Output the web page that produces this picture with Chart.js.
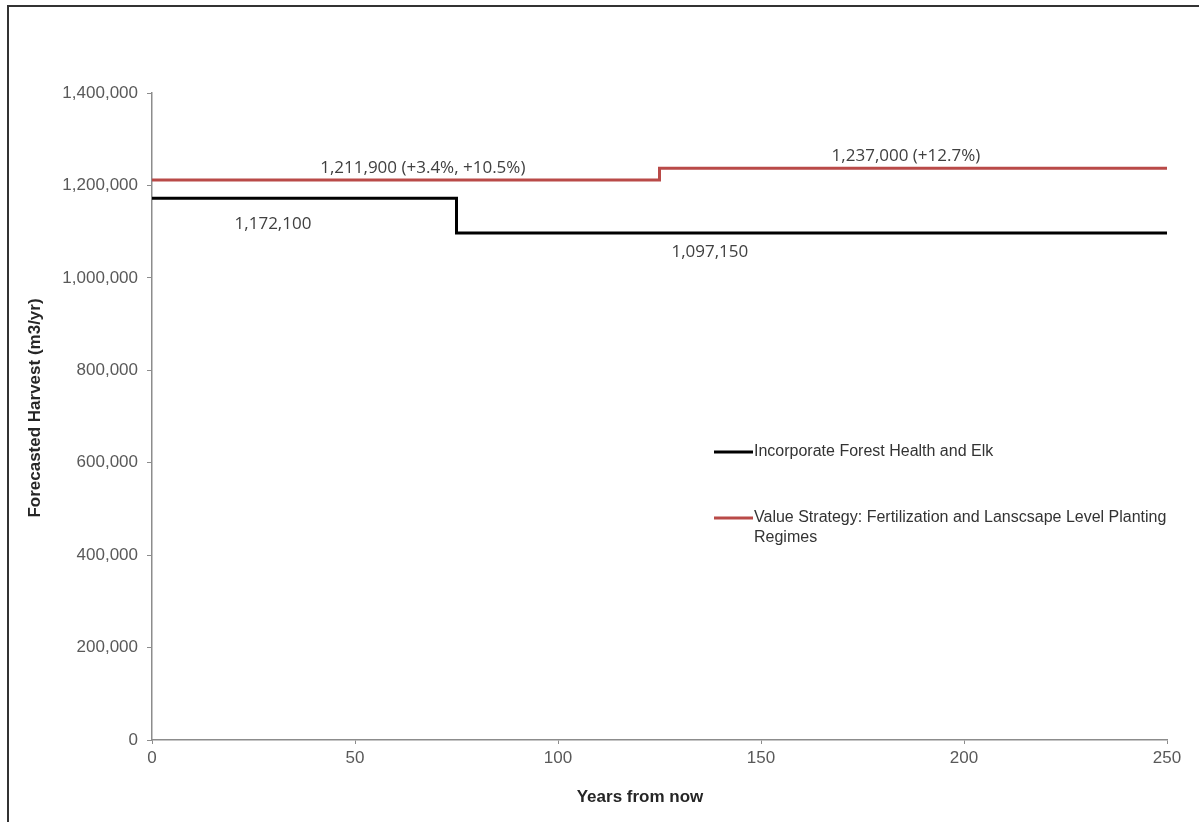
<!DOCTYPE html>
<html lang="en">
<head>
    <meta charset="UTF-8">
    <title>Forecasted Harvest</title>
    <script src="https://cdn.jsdelivr.net/npm/chart.js"></script>
    <style>
        body { margin: 0; background: #fff; }
        #wrap { position: relative; width: 1199px; height: 822px; }
        #frame { position: absolute; left: 7px; top: 5px; right: -4px; bottom: -4px; border-left: 2px solid #333; border-top: 2px solid #333; pointer-events: none; }
    </style>
</head>
<body>
    <div id="wrap">
        <canvas id="harvestChart" width="1199" height="822"></canvas>
        <div id="frame"></div>
    </div>

    <script>
        // years where each harvest level starts (last point closes the line at 250)
        const healthElkYears = [0, 75, 250];
        const healthElkHarvest = [1172100, 1097150, 1097150];
        const valueYears = [0, 125, 250];
        const valueHarvest = [1211900, 1237000, 1237000];

        const seriesNames = [
            'Incorporate Forest Health and Elk',
            'Value Strategy: Fertilization and Lanscsape Level Planting Regimes'
        ];
        const yTicks = [0, 200000, 400000, 600000, 800000, 1000000, 1200000, 1400000];
        const xTicks = [0, 50, 100, 150, 200, 250];

        // text labels sitting on the lines: [year, harvest, text, pixel shift]
        const lineLabels = [
            [66.7, 1211900, '1,211,900 (+3.4%, +10.5%)', -12],
            [29.8, 1172100, '1,172,100', 26],
            [185.7, 1237000, '1,237,000 (+12.7%)', -12],
            [137.4, 1097150, '1,097,150', 19]
        ];

        const toPoints = (xs, ys) => xs.map((x, i) => ({ x: x, y: ys[i] }));

        const axisGrey = '#8c8c8c';
        const tickFont = { family: 'Liberation Sans', size: 17 };

        const extrasPlugin = {
            id: 'extras',
            afterDraw(chart) {
                const ctx = chart.ctx;
                const xs = chart.scales.x;
                const ys = chart.scales.y;
                ctx.save();

                // labels along the lines
                ctx.font = '17px "Open Sans"';
                ctx.fillStyle = '#404040';
                ctx.textAlign = 'center';
                ctx.textBaseline = 'middle';
                lineLabels.forEach(([yr, val, txt, shift]) => {
                    ctx.fillText(txt, xs.getPixelForValue(yr), ys.getPixelForValue(val) + shift);
                });

                // axis titles
                ctx.font = 'bold 17px "Liberation Sans"';
                ctx.fillStyle = '#262626';
                ctx.fillText('Years from now', 640, 797);
                ctx.translate(35, 408);
                ctx.rotate(-Math.PI / 2);
                ctx.fillText('Forecasted Harvest (m3/yr)', 0, 0);
                ctx.setTransform(1, 0, 0, 1, 0, 0);

                // legend inside the plot
                ctx.font = '16px "Liberation Sans"';
                ctx.textAlign = 'left';
                ctx.fillStyle = '#333';
                const legendRows = [[452], [518, 538]];
                const wrapped = [[seriesNames[0]], ['Value Strategy: Fertilization and Lanscsape Level Planting', 'Regimes']];
                chart.data.datasets.forEach((ds, i) => {
                    const y0 = legendRows[i][0];
                    ctx.strokeStyle = ds.borderColor;
                    ctx.lineWidth = 3;
                    ctx.beginPath();
                    ctx.moveTo(714, y0);
                    ctx.lineTo(753, y0);
                    ctx.stroke();
                    wrapped[i].forEach((line, j) => ctx.fillText(line, 754, legendRows[i][j]));
                });
                ctx.restore();
            }
        };

        new Chart(document.getElementById('harvestChart'), {
            type: 'line',
            data: {
                datasets: [{
                    label: seriesNames[0],
                    data: toPoints(healthElkYears, healthElkHarvest),
                    borderColor: '#000000',
                    borderWidth: 3,
                    stepped: 'before',
                    pointRadius: 0,
                    fill: false
                }, {
                    label: seriesNames[1],
                    data: toPoints(valueYears, valueHarvest),
                    borderColor: '#b94a48',
                    borderWidth: 3,
                    stepped: 'before',
                    pointRadius: 0,
                    fill: false
                }]
            },
            options: {
                responsive: false,
                animation: false,
                layout: { padding: { left: 0, right: 32, top: 93, bottom: 0 } },
                plugins: {
                    legend: { display: false },
                    tooltip: { enabled: false }
                },
                scales: {
                    x: {
                        type: 'linear',
                        min: 0,
                        max: 250,
                        afterBuildTicks: axis => { axis.ticks = xTicks.map(v => ({ value: v })); },
                        afterFit: axis => { axis.height = 82; },
                        border: { color: axisGrey, width: 1.5 },
                        grid: { drawOnChartArea: false, drawTicks: true, tickLength: 4, color: axisGrey },
                        ticks: { font: tickFont, color: '#595959', padding: 4, maxRotation: 0 }
                    },
                    y: {
                        min: 0,
                        max: 1400000,
                        afterBuildTicks: axis => { axis.ticks = yTicks.map(v => ({ value: v })); },
                        afterFit: axis => { axis.width = 152; },
                        border: { color: axisGrey, width: 1.5 },
                        grid: { drawOnChartArea: false, drawTicks: true, tickLength: 5, color: axisGrey },
                        ticks: {
                            font: tickFont,
                            color: '#595959',
                            padding: 9,
                            callback: v => v.toLocaleString('en-US')
                        }
                    }
                }
            },
            plugins: [extrasPlugin]
        });
    </script>
</body>
</html>
